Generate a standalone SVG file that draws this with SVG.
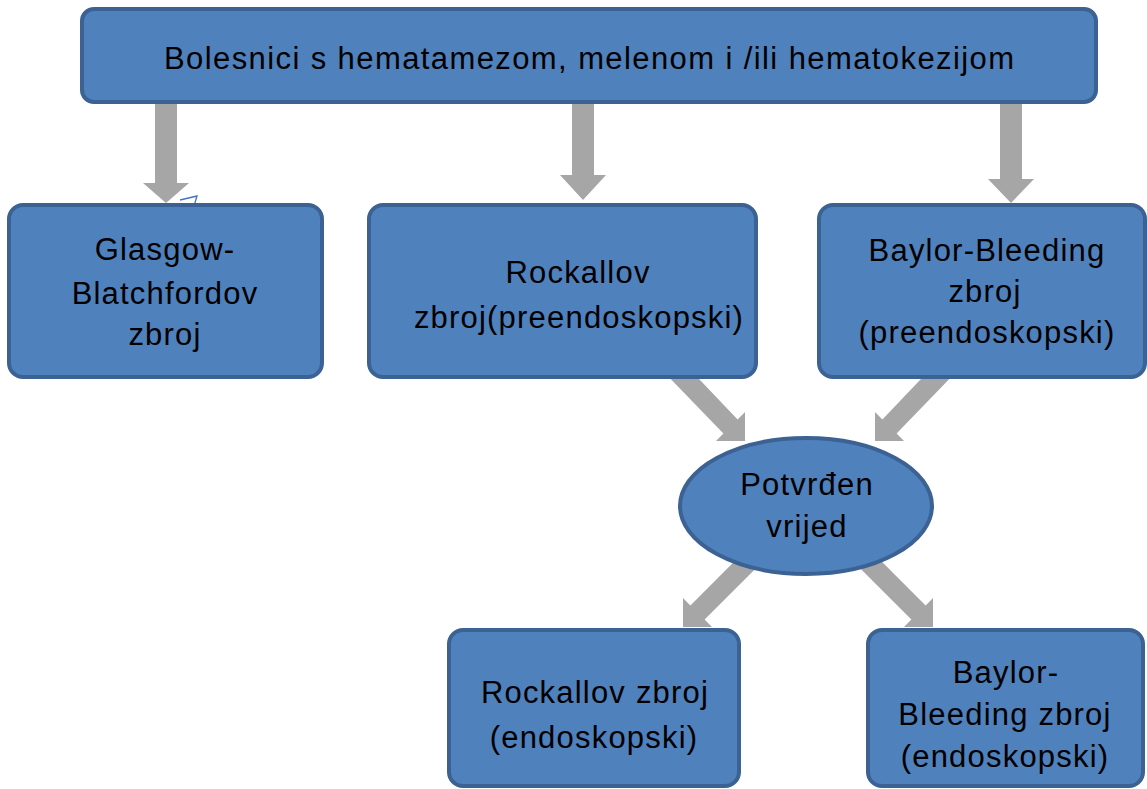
<svg xmlns="http://www.w3.org/2000/svg" width="1147" height="789" viewBox="0 0 1147 789">
  <style>
    .box { fill: #4f81bd; stroke: #3b6293; stroke-width: 4; }
    .arr { fill: #a6a6a6; }
    .t { font-family: "Liberation Sans", Arial, sans-serif; font-size: 31px; fill: #000; text-anchor: middle; letter-spacing: 1.2px; }
  </style>
  <rect width="1147" height="789" fill="#ffffff"/>
  <g id="connectors">
    <polygon class="arr" points="155,100 177,100 177,183 189,183 166,203 143,183 155,183"/>
    <polygon class="arr" points="572,100 594,100 594,175 606,175 583,200 560,175 572,175"/>
    <polygon class="arr" points="1000,100 1022,100 1022,179 1034,179 1011,203 988,179 1000,179"/>
    <polygon class="arr" points="667.8,376 696.2,376 737.6,419.4 745,412 745,441 716,441 723.4,433.6"/>
    <polygon class="arr" points="923.8,376 952.2,376 896.6,433.6 904,441 875,441 875,412 882.4,419.4"/>
    <polygon class="arr" points="745.8,550 774.2,550 704.6,619.6 712,627 683,627 683,598 690.4,605.4"/>
    <polygon class="arr" points="870.2,550 841.8,550 911.4,619.6 904,627 933,627 933,598 925.6,605.4"/>
    <path d="M180,200 L197,196 L194,206" fill="none" stroke="#4472c4" stroke-width="1.3"/>
  </g>
  <g id="node-top">
    <rect class="box" x="82" y="9" width="1014" height="93" rx="12"/>
    <text class="t" x="589" y="69" textLength="850" lengthAdjust="spacing" style="letter-spacing:0">Bolesnici s hematamezom, melenom i /ili hematokezijom</text>
  </g>
  <g id="node-glasgow">
    <rect class="box" x="9" y="205" width="313" height="172" rx="14"/>
    <text class="t" x="165" y="260">Glasgow-</text>
    <text class="t" x="165" y="304">Blatchfordov</text>
    <text class="t" x="165" y="345">zbroj</text>
  </g>
  <g id="node-rockall">
    <rect class="box" x="369" y="205" width="387" height="172" rx="14"/>
    <text class="t" x="578" y="283">Rockallov</text>
    <text class="t" x="579" y="328">zbroj(preendoskopski)</text>
  </g>
  <g id="node-baylor">
    <rect class="box" x="819" y="205" width="326" height="172" rx="14"/>
    <text class="t" x="987" y="261">Baylor-Bleeding</text>
    <text class="t" x="985" y="302">zbroj</text>
    <text class="t" x="987" y="343">(preendoskopski)</text>
  </g>
  <g id="node-vrijed">
    <ellipse class="box" cx="806" cy="506" rx="126" ry="68"/>
    <text class="t" x="807" y="495">Potvrđen</text>
    <text class="t" x="807" y="537">vrijed</text>
  </g>
  <g id="node-rockall-endo">
    <rect class="box" x="449" y="630" width="290" height="156" rx="14"/>
    <text class="t" x="595" y="703">Rockallov zbroj</text>
    <text class="t" x="594" y="748">(endoskopski)</text>
  </g>
  <g id="node-baylor-endo">
    <rect class="box" x="868" y="630" width="275" height="156" rx="14"/>
    <text class="t" x="1006" y="683">Baylor-</text>
    <text class="t" x="1005" y="725">Bleeding zbroj</text>
    <text class="t" x="1005" y="767">(endoskopski)</text>
  </g>
</svg>
